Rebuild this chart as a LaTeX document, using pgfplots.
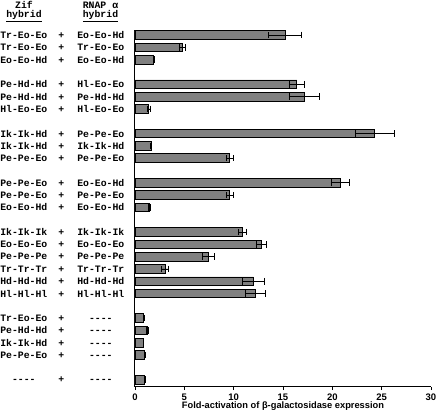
\documentclass[border=0pt]{standalone}
\usepackage{fontspec}
\setmainfont{Liberation Sans}
\setmonofont{Liberation Mono}
\usepackage{pgfplots}
\pgfplotsset{compat=1.18}
\newcommand{\lab}[2]{\makebox[51pt][c]{#1}\makebox[24pt][c]{+}\makebox[55pt][c]{#2}}
\begin{document}
\begin{tikzpicture}
\path[use as bounding box] (-135pt,-31pt) rectangle (302pt,387pt);
\begin{axis}[
  at={(0pt,0pt)}, anchor=south west,
  scale only axis, width=296pt, height=357pt,
  xmin=0, xmax=30, ymin=-28.59, ymax=0.41,
  axis lines=left, axis line style={-, line width=1pt, black},
  xtick={0,5,...,30}, xtick align=outside, major tick length=3pt,
  x tick style={black, line width=0.8pt},
  xticklabel style={font=\fontsize{9.5}{10}\selectfont\bfseries, yshift=0pt},
  /pgf/number format/assume math mode=true,
  xlabel={\bfseries Fold-activation of β-galactosidase expression},
  xlabel style={font=\fontsize{9.3}{10}\selectfont, yshift=5pt},
  ytick={0,-1,-2,-4,-5,-6,-8,-9,-10,-12,-13,-14,-16,-17,-18,-19,-20,-21,-23,-24,-25,-26,-28},
  yticklabels={
    \lab{Tr-Eo-Eo}{Eo-Eo-Hd},\lab{Tr-Eo-Eo}{Tr-Eo-Eo},\lab{Eo-Eo-Hd}{Eo-Eo-Hd},
    \lab{Pe-Hd-Hd}{Hl-Eo-Eo},\lab{Pe-Hd-Hd}{Pe-Hd-Hd},\lab{Hl-Eo-Eo}{Hl-Eo-Eo},
    \lab{Ik-Ik-Hd}{Pe-Pe-Eo},\lab{Ik-Ik-Hd}{Ik-Ik-Hd},\lab{Pe-Pe-Eo}{Pe-Pe-Eo},
    \lab{Pe-Pe-Eo}{Eo-Eo-Hd},\lab{Pe-Pe-Eo}{Pe-Pe-Eo},\lab{Eo-Eo-Hd}{Eo-Eo-Hd},
    \lab{Ik-Ik-Ik}{Ik-Ik-Ik},\lab{Eo-Eo-Eo}{Eo-Eo-Eo},\lab{Pe-Pe-Pe}{Pe-Pe-Pe},
    \lab{Tr-Tr-Tr}{Tr-Tr-Tr},\lab{Hd-Hd-Hd}{Hd-Hd-Hd},\lab{Hl-Hl-Hl}{Hl-Hl-Hl},
    \lab{Tr-Eo-Eo}{----},\lab{Pe-Hd-Hd}{----},\lab{Ik-Ik-Hd}{----},\lab{Pe-Pe-Eo}{----},
    \lab{----}{----}},
  y tick style={draw=none},
  yticklabel style={font=\fontsize{9.8}{10}\selectfont\ttfamily\bfseries, inner sep=0pt, xshift=-5pt},
  clip=false,
]
\addplot[xbar, bar width=0.7, fill=black!50, draw=black, line width=0.8pt,
  error bars/.cd, x dir=both, x explicit, error mark=|,
  error bar style={black, line width=0.7pt},
  error mark options={black, line width=0.7pt, mark size=3.3pt}]
coordinates {
  (15.2,0) +- (1.7,0)
  (4.8,-1) +- (0.35,0)
  (1.9,-2) +- (0.08,0)
  (16.4,-4) +- (0.8,0)
  (17.15,-5) +- (1.5,0)
  (1.4,-6) +- (0.15,0)
  (24.3,-8) +- (2.0,0)
  (1.65,-9) +- (0.05,0)
  (9.6,-10) +- (0.35,0)
  (20.8,-12) +- (0.95,0)
  (9.6,-13) +- (0.35,0)
  (1.5,-14) +- (0.1,0)
  (10.9,-16) +- (0.4,0)
  (12.8,-17) +- (0.55,0)
  (7.4,-18) +- (0.6,0)
  (3.05,-19) +- (0.35,0)
  (12.0,-20) +- (1.1,0)
  (12.2,-21) +- (1.0,0)
  (0.9,-23) +- (0.05,0)
  (1.25,-24) +- (0.1,0)
  (0.85,-25) +- (0.03,0)
  (0.95,-26) +- (0.05,0)
  (1.0,-28) +- (0.05,0)
};
\end{axis}
\begin{scope}[font=\fontsize{9.8}{10}\selectfont\ttfamily\bfseries]
\node at (-111pt,382pt) {Zif};
\node at (-111pt,371pt) {\underline{hybrid}};
\node at (-34.5pt,382pt) {RNAP α};
\node at (-34.5pt,371pt) {\underline{hybrid}};
\end{scope}
\end{tikzpicture}
\end{document}
